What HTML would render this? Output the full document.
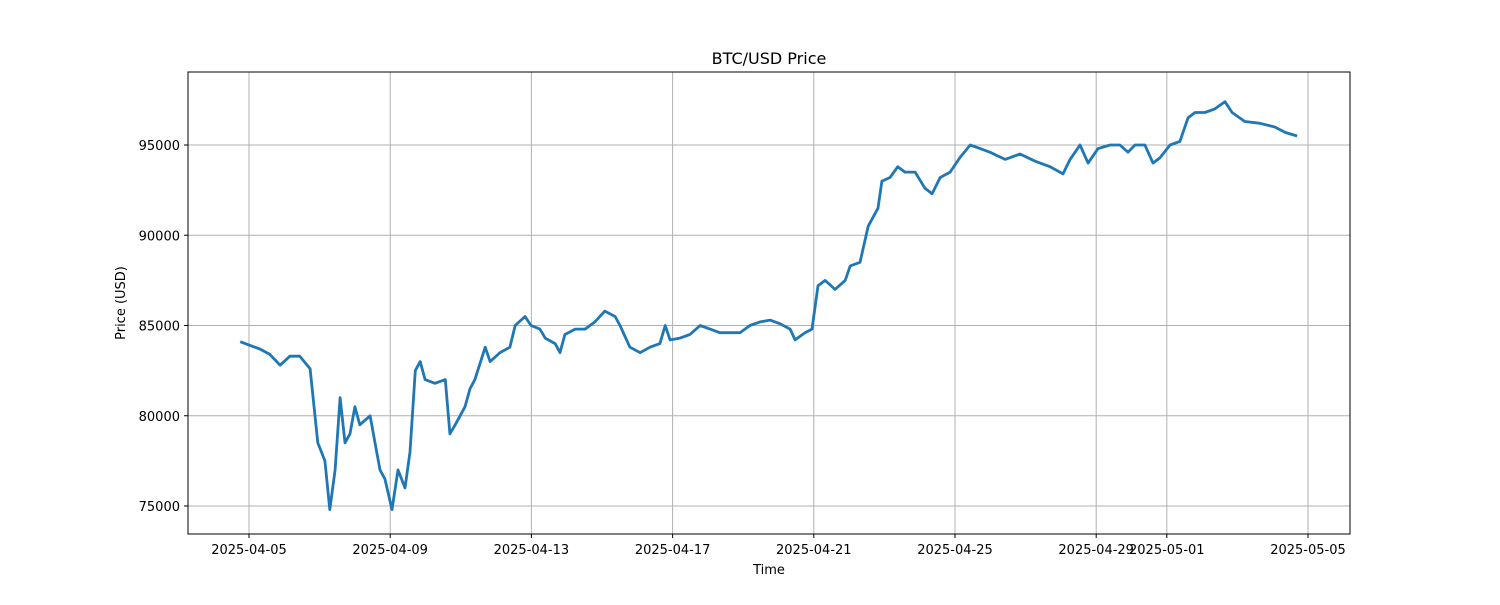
<!DOCTYPE html>
<html><head><meta charset="utf-8"><style>
body{margin:0;background:#fff;font-family:"Liberation Sans","DejaVu Sans",sans-serif}
svg text{font-family:"DejaVu Sans","Liberation Sans",sans-serif;font-size:13px;fill:#000}
</style></head><body>
<svg id="chart" width="1500" height="600" xmlns="http://www.w3.org/2000/svg">
<rect width="1500" height="600" fill="#fff"/>
<g id="grid"></g>
<g id="ticks"></g>
<path id="line" fill="none" stroke="#1f77b4" stroke-width="2.8" stroke-linejoin="round"/>
<rect x="188" y="72" width="1162" height="462" fill="none" stroke="#000" stroke-width="1"/>
<text x="769" y="64" text-anchor="middle" style="font-size:16px">BTC/USD Price</text>
<text x="769" y="574" text-anchor="middle">Time</text>
<text transform="translate(125,303) rotate(-90)" text-anchor="middle">Price (USD)</text>
</svg>
<script>
const days=[0.75,1.03,1.31,1.59,1.88,2.16,2.44,2.73,2.95,3.15,3.29,3.44,3.58,3.72,3.86,4.0,4.14,4.43,4.57,4.71,4.85,5.05,5.22,5.42,5.56,5.71,5.85,5.99,6.27,6.56,6.69,6.84,6.98,7.12,7.26,7.4,7.69,7.83,8.11,8.39,8.54,8.82,8.99,9.24,9.39,9.67,9.81,9.95,10.24,10.52,10.8,11.08,11.37,11.51,11.79,12.08,12.36,12.64,12.79,12.93,13.21,13.49,13.78,14.06,14.34,14.63,14.91,15.19,15.48,15.76,16.04,16.33,16.47,16.75,16.95,17.12,17.32,17.6,17.89,18.03,18.31,18.54,18.82,18.93,19.16,19.38,19.58,19.87,20.15,20.35,20.58,20.86,21.14,21.43,21.71,21.99,22.42,22.84,23.27,23.69,24.06,24.26,24.54,24.77,25.05,25.39,25.67,25.9,26.1,26.38,26.61,26.81,27.09,27.37,27.6,27.8,28.08,28.36,28.65,28.85,29.21,29.64,30.06,30.35,30.69];
const prices=[84100,83900,83700,83400,82800,83300,83300,82600,78500,77500,74800,77000,81000,78500,79000,80500,79500,80000,78500,77000,76500,74800,77000,76000,78000,82500,83000,82000,81800,82000,79000,79500,80000,80500,81500,82000,83800,83000,83500,83800,85000,85500,85000,84800,84300,84000,83500,84500,84800,84800,85200,85800,85500,85000,83800,83500,83800,84000,85000,84200,84300,84500,85000,84800,84600,84600,84600,85000,85200,85300,85100,84800,84200,84600,84800,87200,87500,87000,87500,88300,88500,90500,91500,93000,93200,93800,93500,93500,92600,92300,93200,93500,94300,95000,94800,94600,94200,94500,94100,93800,93400,94200,95000,94000,94800,95000,95000,94600,95000,95000,94000,94300,95000,95200,96500,96800,96800,97000,97400,96800,96300,96200,96000,95700,95500];
const xTickDays=[1,5,9,13,17,21,25,27,31];
const xTickLabels=["2025-04-05","2025-04-09","2025-04-13","2025-04-17","2025-04-21","2025-04-25","2025-04-29","2025-05-01","2025-05-05"];
const yTicks=[75000,80000,85000,90000,95000];
const NS="http://www.w3.org/2000/svg";
const X=d=>213.7+d*35.3;
const Y=v=>145+(95000-v)*0.01805;
const grid=document.getElementById('grid'),ticks=document.getElementById('ticks');
function mk(tag,attrs,parent,txt){const e=document.createElementNS(NS,tag);for(const k in attrs)e.setAttribute(k,attrs[k]);if(txt!==undefined)e.textContent=txt;parent.appendChild(e);return e;}
xTickDays.forEach((d,i)=>{const x=X(d);
 const g=mk('line',{x1:x,x2:x,y1:72,y2:534,stroke:'#b0b0b0','stroke-width':1},grid);
 
 
 const t=mk('line',{x1:x,x2:x,y1:534,y2:538,stroke:'#000'},ticks);
 
 
 const l=mk('text',{x:x,y:554,'text-anchor':'middle'},ticks,xTickLabels[i]);
 
 
});
yTicks.forEach(v=>{const y=Y(v);
 const g=mk('line',{x1:188,x2:1350,y1:y,y2:y,stroke:'#b0b0b0','stroke-width':1},grid);
 
 
 const t=mk('line',{x1:184,x2:188,y1:y,y2:y,stroke:'#000'},ticks);
 
 
 const l=mk('text',{x:180,y:y+5,'text-anchor':'end'},ticks,String(v));
 
 
});
document.getElementById('line').setAttribute('d',days.map((d,i)=>(i?'L':'M')+X(d).toFixed(1)+','+Y(prices[i]).toFixed(1)).join(''));
</script>
</body></html>
